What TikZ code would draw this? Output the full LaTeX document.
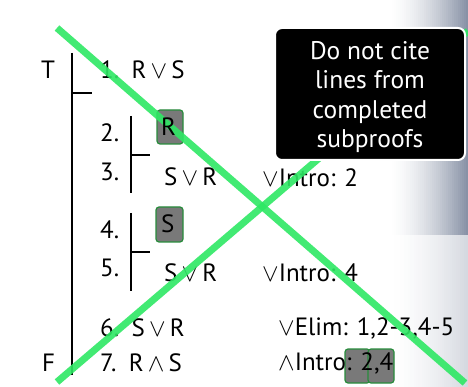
\documentclass[tikz,border=0pt]{standalone}
\usepackage{fontspec}
\setmainfont{PT Sans}
\definecolor{xgreen}{RGB}{46,232,100}
\definecolor{boxgreen}{RGB}{40,140,60}
\definecolor{bgblue}{RGB}{136,146,166}
\begin{document}
\begin{tikzpicture}[x=1pt,y=-1pt,
  txt/.style={anchor=west,inner sep=0pt,font=\fontsize{25}{30}\selectfont},
  hl/.style={fill=gray!95!black,draw=boxgreen,line width=1.2pt,rounded corners=3pt},
  bar/.style={line width=2.6pt,black},
  cross/.style={xgreen,line width=7pt,opacity=0.9},
  notebox/.style={fill=black,draw=white,line width=2pt,rounded corners=7pt,
    minimum width=190pt,minimum height=132pt,inner sep=0pt},
  notetxt/.style={text=white,align=center,inner sep=0pt,
    font=\fontsize{25.5}{29.5}\selectfont}]
\useasboundingbox (0,0) rectangle (468,387);
\fill[white] (0,0) rectangle (468,387);
% background gradient built from thin strips
\foreach \i in {0,...,39}{
  \pgfmathsetmacro{\p}{100*(\i/39)^1.6}
  \pgfmathsetmacro{\q}{35*(\i/39)^1.6}
  \fill[white!\the\numexpr100-\fpeval{round(\p)}\relax!bgblue] (388+2*\i,0) rectangle (390.6+2*\i,235);
  \fill[white!\the\numexpr100-\fpeval{round(\q)}\relax!bgblue] (388+2*\i,235) rectangle (390.6+2*\i,387);
}
% highlight boxes
\draw[hl] (157,110) rectangle (183,144);
\draw[hl] (156,207) rectangle (183,242);
\draw[hl] (345,349) rectangle (370,383);
\draw[hl] (368,349) rectangle (394,383);
% bars
\draw[bar] (72,53) -- (72,375);
\draw[bar] (72,93) -- (92,93);
\draw[bar] (131,116) -- (131,193);
\draw[bar] (131,155) -- (150,155);
\draw[bar] (131,213) -- (131,291);
\draw[bar] (131,252) -- (150,252);
% text
\node[txt] (T) at (41,70) {T};
\node[txt] (F) at (42,363) {F};
\node[txt] (n1) at (100,70) {1.\enspace R\,$\vee$\,S};
\node[txt] (n2) at (100,133) {2.};
\node[txt] (n3) at (100,172) {3.};
\node[txt] (s3) at (164,177) {S\,$\vee$\,R};
\node[txt] (j3) at (262,178) {$\vee$Intro: 2};
\node[txt] (n4) at (100,230) {4.};
\node[txt] (n5) at (100,268) {5.};
\node[txt] (s5) at (164,273) {S\,$\vee$\,R};
\node[txt] (j5) at (262,273) {$\vee$Intro: 4};
\node[txt] (n6) at (100,328) {6.\enspace S\,$\vee$\,R};
\node[txt] (j6) at (278,328) {$\vee$Elim: 1,2-3,4-5};
\node[txt] (n7) at (100,363) {7.\enspace R\,$\wedge$\,S};
% cross
\draw[cross] (57,28) -- (465,383);
\draw[cross] (57,382) -- (468,31);
\node[txt] (r) at (161,127) {R};
\node[txt] (s) at (161,224) {S};
\node[txt] (j7) at (278,363) {$\wedge$Intro: 2,4};
% note
\node[notebox] (note) at (370,94) {};
\node[notetxt] (notetext) at (370,97) {Do not cite\\lines from\\completed\\subproofs};
\end{tikzpicture}
\end{document}
